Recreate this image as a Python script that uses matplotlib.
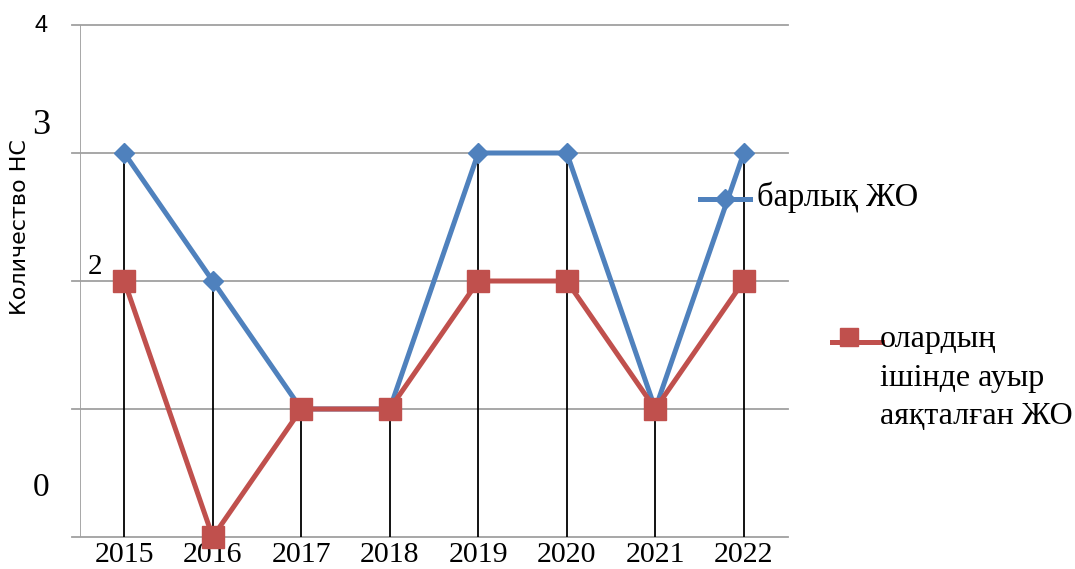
import matplotlib
matplotlib.use("Agg")
import matplotlib.pyplot as plt
import numpy as np

# === Data ===
years = ["2015", "2016", "2017", "2018", "2019", "2020", "2021", "2022"]
total = [3, 2, 1, 1, 3, 3, 1, 3]          # барлық ЖО
severe = [2, 0, 1, 1, 2, 2, 1, 2]         # олардың ішінде ауыр аяқталған ЖО

blue = "#4F81BD"
red = "#C0504D"
grid_c = "#A0A0A0"
serif = "Liberation Serif"
sans = "Liberation Sans"

W, H = 1075, 569
fig = plt.figure(figsize=(W / 100, H / 100), dpi=100)
ax = fig.add_axes([80 / W, (H - 537) / H, 708 / W, 512 / H])

x = np.arange(len(years)) + 0.5
ax.set_xlim(0, len(years))
ax.set_ylim(0, 4)

# grid lines + small tick stubs to the left
for v in [0, 1, 2, 3, 4]:
    ax.plot([-0.09, len(years)], [v, v], color=grid_c, lw=1.3, clip_on=False, zorder=1)
ax.plot([0, 0], [0, 4], color=grid_c, lw=1.3, zorder=1)

# drop lines
ax.vlines(x, 0, np.maximum(total, severe), color="black", lw=1.3, zorder=2)

ax.plot(x, total, color=blue, lw=3.6, marker="D", markersize=10.5, zorder=3, clip_on=False)
ax.plot(x, severe, color=red, lw=3.6, marker="s", markersize=16.5, zorder=4, clip_on=False)

for s in ax.spines.values():
    s.set_visible(False)
ax.set_xticks([])
ax.set_yticks([])

# x labels (kept inside the canvas)
for xi, lab in zip(x, years):
    ax.text(xi, -0.04, lab, ha="center", va="top", fontsize=21.5, family=serif)

# odd y labels as in the original
fig.text(41 / W, 1 - 26 / H, "4", ha="center", va="center", fontsize=17, family=sans)
fig.text(41 / W, 1 - 125 / H, "3", ha="center", va="center", fontsize=26, family=serif)
fig.text(95 / W, 1 - 267 / H, "2", ha="center", va="center", fontsize=21, family=serif)
fig.text(41 / W, 1 - 488 / H, "0", ha="center", va="center", fontsize=24, family=serif)
fig.text(20 / W, 1 - 227 / H, "Количество НС", rotation=90, ha="center", va="center",
         fontsize=16, family="DejaVu Sans")

# legend drawn by hand
fig.lines.append(plt.Line2D([700 / W, 750 / W], [1 - 199 / H, 1 - 199 / H], color=blue,
                            lw=3.6, transform=fig.transFigure))
fig.lines.append(plt.Line2D([725 / W], [1 - 199 / H], color=blue, marker="D", markersize=10,
                            transform=fig.transFigure))
fig.text(757 / W, 1 - 197 / H, "барлық ЖО", ha="left", va="center", fontsize=23.5, family=serif)

fig.lines.append(plt.Line2D([832 / W, 882 / W], [1 - 342 / H, 1 - 342 / H], color=red,
                            lw=3.6, transform=fig.transFigure))
fig.lines.append(plt.Line2D([849 / W], [1 - 337 / H], color=red, marker="s", markersize=13,
                            transform=fig.transFigure))
for i, line in enumerate(["олардың", "ішінде ауыр", "аяқталған ЖО"]):
    fig.text(880 / W, 1 - (340 + 38.5 * i) / H, line, ha="left", va="center",
             fontsize=23, family=serif)

fig.savefig("out.png", dpi=100)
